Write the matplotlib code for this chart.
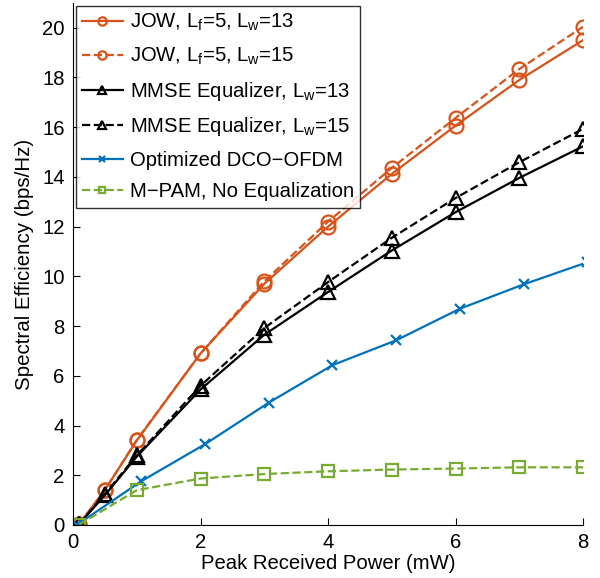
import numpy as np
import matplotlib
matplotlib.use('Agg')
import matplotlib.pyplot as plt

plt.rcParams['font.family'] = ['Liberation Sans', 'DejaVu Sans']
plt.rcParams['mathtext.fontset'] = 'custom'
plt.rcParams['mathtext.rm'] = 'Liberation Sans'
plt.rcParams['mathtext.it'] = 'Liberation Sans'

##==============================================================================
# data
p = [0.1, 0.5, 1, 2, 3, 4, 5, 6, 7, 8]
jow13 = [0.05, 1.41, 3.4, 6.9, 9.7, 12.0, 14.12, 16.06, 17.9, 19.5]
jow15 = [0.05, 1.41, 3.42, 6.9, 9.8, 12.2, 14.36, 16.37, 18.34, 20.04]
mmse13 = [0.05, 1.2, 2.75, 5.45, 7.65, 9.37, 11.04, 12.58, 13.96, 15.23]
mmse15 = [0.05, 1.25, 2.8, 5.6, 7.92, 9.77, 11.55, 13.15, 14.59, 15.93]

p_dco = [0.07, 1.07, 2.07, 3.07, 4.07, 5.07, 6.07, 7.07, 8.07]
dco = [0.02, 1.76, 3.25, 4.92, 6.43, 7.43, 8.7, 9.68, 10.57]

p_pam = [0.1, 1, 2, 3, 4, 5, 6, 7, 8]
pam = [0.02, 1.4, 1.87, 2.05, 2.16, 2.23, 2.27, 2.32, 2.32]

orange = '#D95319'
blue = '#0072BD'
green = '#77AC30'

##==============================================================================
fig = plt.figure(figsize=(6, 5.78), dpi=100)
ax = fig.add_axes([0.1217, 0.0917, 0.85, 0.9033])

lw = 1.6
ax.plot(p, jow13, '-', color=orange, lw=lw, marker='o', ms=10, mfc='none', mew=1.6,
        label=r'JOW, L$_\mathrm{f}$=5, L$_\mathrm{w}$=13')
ax.plot(p, jow15, '--', color=orange, lw=lw, marker='o', ms=10, mfc='none', mew=1.6,
        label=r'JOW, L$_\mathrm{f}$=5, L$_\mathrm{w}$=15')
ax.plot(p, mmse13, '-', color='k', lw=lw, marker='^', ms=10, mfc='none', mew=1.6,
        label=r'MMSE Equalizer, L$_\mathrm{w}$=13')
ax.plot(p, mmse15, '--', color='k', lw=lw, marker='^', ms=10, mfc='none', mew=1.6,
        label=r'MMSE Equalizer, L$_\mathrm{w}$=15')
ax.plot(p_dco, dco, '-', color=blue, lw=lw, marker='x', ms=7, mew=1.6,
        label='Optimized DCO\u2212OFDM')
ax.plot(p_pam, pam, '--', color=green, lw=lw, marker='s', ms=8, mfc='none', mew=1.6,
        label='M\u2212PAM, No Equalization')

ax.set_xlim(0, 8)
ax.set_ylim(0, 21)
ax.set_xticks([0, 2, 4, 6, 8])
ax.set_yticks(np.arange(0, 21, 2))
ax.spines['top'].set_visible(False)
ax.spines['right'].set_visible(False)
ax.tick_params(direction='in', length=5, labelsize=14.6, pad=6)
ax.set_xlabel('Peak Received Power (mW)', fontsize=14.6, labelpad=1)
ax.set_ylabel('Spectral Efficiency (bps/Hz)', fontsize=14.8, labelpad=6)

leg = ax.legend(loc='upper left', fontsize=14.6, frameon=True, fancybox=False,
                edgecolor='k', handlelength=2.0, borderaxespad=0.15,
                labelspacing=0.62, borderpad=0.3, handletextpad=0.35, markerscale=0.6)
leg.get_frame().set_linewidth(1.0)

plt.savefig('out.png', dpi=100)
